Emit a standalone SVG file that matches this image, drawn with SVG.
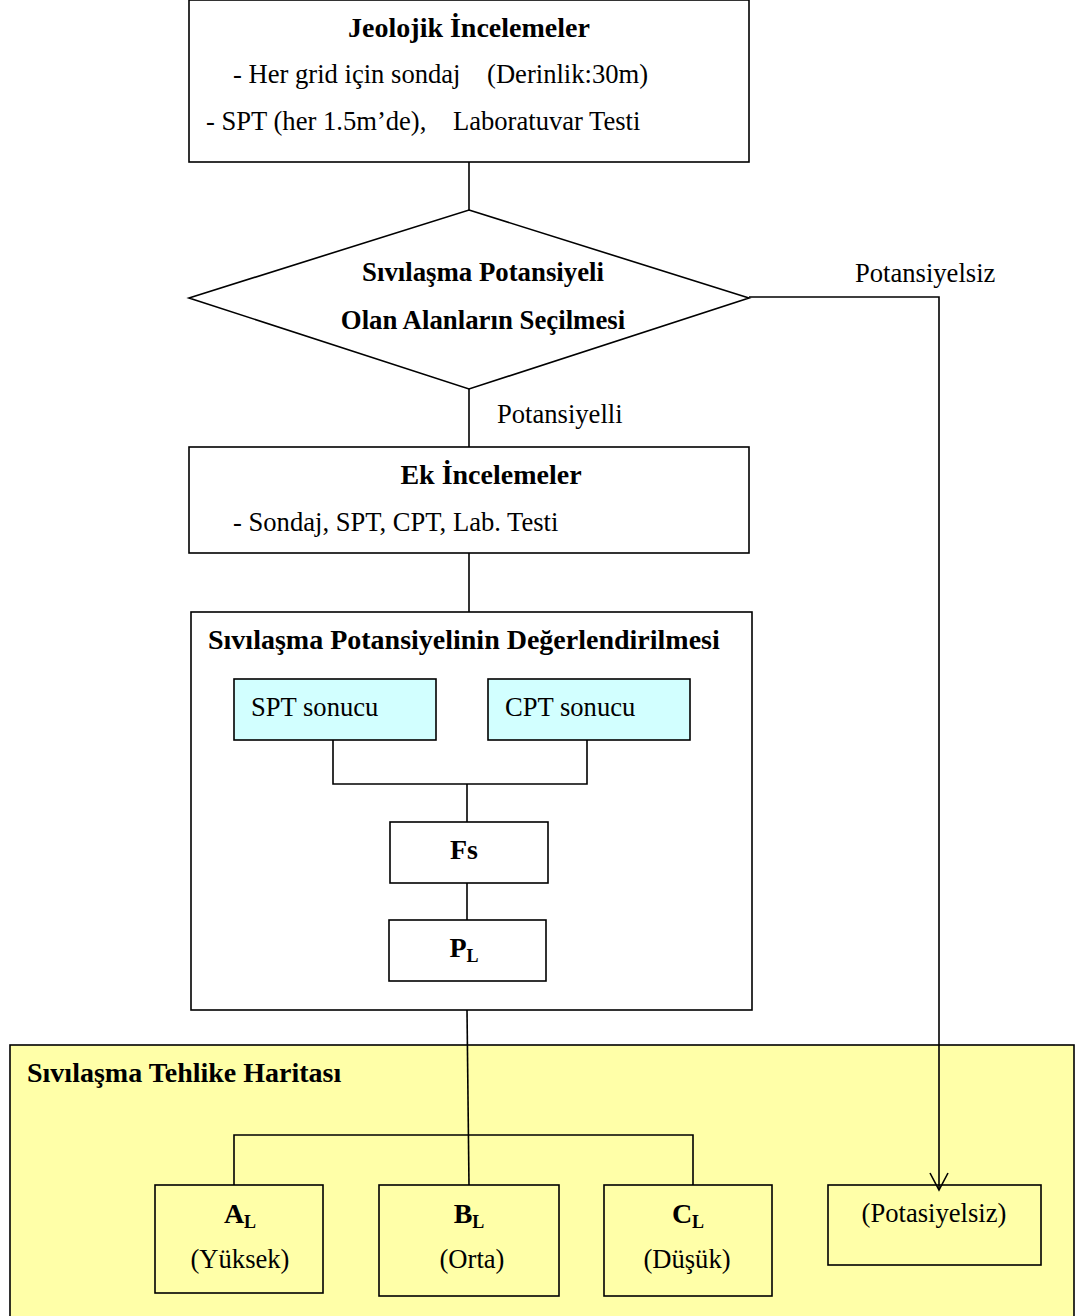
<svg xmlns="http://www.w3.org/2000/svg" width="1077" height="1316" viewBox="0 0 1077 1316">
<style>
.b{fill:#fff;stroke:#000;stroke-width:1.6}
.c{fill:#d2ffff;stroke:#000;stroke-width:1.6}
.y{fill:#ffffa8;stroke:#000;stroke-width:1.6}
.t{font-family:"Liberation Serif","Times New Roman",serif;font-size:26.6px;fill:#000}
.h{font-family:"Liberation Serif","Times New Roman",serif;font-size:28px;font-weight:bold;fill:#000}
.s{font-size:18px}
.m{text-anchor:middle}
.ln{fill:none;stroke:#000;stroke-width:1.6}
</style>
<defs>
<marker id="ar" viewBox="0 0 20 20" refX="18" refY="10" markerWidth="20" markerHeight="20" markerUnits="userSpaceOnUse" orient="auto">
<path d="M1,1 L18,10 L1,19" fill="none" stroke="#000" stroke-width="1.6"/>
</marker>
</defs>
<rect id="haz" class="y" x="10" y="1045" width="1064" height="275"/>
<g id="nodes">
<g id="jeo">
<rect class="b" x="189" y="0" width="560" height="162"/>
<text class="h m" x="469" y="37">Jeolojik İncelemeler</text>
<text class="t" x="233" y="83" xml:space="preserve">- Her grid için sondaj    (Derinlik:30m)</text>
<text class="t" x="206" y="130" xml:space="preserve">- SPT (her 1.5m’de),    Laboratuvar Testi</text>
</g>
<g id="karar">
<polygon class="b" points="469,210 749,298 469,389 189,298"/>
<text class="h m" x="483" y="281" style="font-size:26.8px">Sıvılaşma Potansiyeli</text>
<text class="h m" x="483" y="329" style="font-size:26.8px">Olan Alanların Seçilmesi</text>
</g>
<g id="ek">
<rect class="b" x="189" y="447" width="560" height="106"/>
<text class="h m" x="491" y="484">Ek İncelemeler</text>
<text class="t" x="233" y="531">- Sondaj, SPT, CPT, Lab. Testi</text>
</g>
<g id="deg">
<rect class="b" x="191" y="612" width="561" height="398"/>
<text class="h" x="208" y="649">Sıvılaşma Potansiyelinin Değerlendirilmesi</text>
</g>
<g id="spt">
<rect class="c" x="234" y="679" width="202" height="61"/>
<text class="t" x="251" y="716">SPT sonucu</text>
</g>
<g id="cpt">
<rect class="c" x="488" y="679" width="202" height="61"/>
<text class="t" x="505" y="716">CPT sonucu</text>
</g>
<g id="fs">
<rect class="b" x="390" y="822" width="158" height="61"/>
<text class="h m" x="464" y="859">Fs</text>
</g>
<g id="pl">
<rect class="b" x="389" y="920" width="157" height="61"/>
<text class="h m" x="464" y="957">P<tspan class="s" dy="5">L</tspan></text>
</g>
<g id="harita">
<text class="h" x="27" y="1082">Sıvılaşma Tehlike Haritası</text>
</g>
<g id="al">
<rect class="b" x="155" y="1185" width="168" height="108" style="fill:#ffffa8"/>
<text class="h m" x="240" y="1223">A<tspan class="s" dy="5">L</tspan></text>
<text class="t m" x="240" y="1268">(Yüksek)</text>
</g>
<g id="bl">
<rect class="b" x="379" y="1185" width="180" height="111" style="fill:#ffffa8"/>
<text class="h m" x="469" y="1223">B<tspan class="s" dy="5">L</tspan></text>
<text class="t m" x="472" y="1268">(Orta)</text>
</g>
<g id="cl">
<rect class="b" x="604" y="1185" width="168" height="111" style="fill:#ffffa8"/>
<text class="h m" x="688" y="1223">C<tspan class="s" dy="5">L</tspan></text>
<text class="t m" x="687" y="1268">(Düşük)</text>
</g>
<g id="pot">
<rect class="b" x="828" y="1185" width="213" height="80" style="fill:#ffffa8"/>
<text class="t m" x="934" y="1222">(Potasiyelsiz)</text>
</g>
</g>
<g id="connectors">
<line class="ln" x1="469" y1="162" x2="469" y2="210"/>
<polyline class="ln" points="749,297 939,297 939,1190" marker-end="url(#ar)"/>
<line class="ln" x1="469" y1="389" x2="469" y2="447"/>
<line class="ln" x1="469" y1="553" x2="469" y2="612"/>
<polyline class="ln" points="333,740 333,784 587,784 587,740"/>
<line class="ln" x1="467" y1="784" x2="467" y2="822"/>
<line class="ln" x1="467" y1="883" x2="467" y2="920"/>
<line class="ln" x1="467" y1="1010" x2="469" y2="1185"/>
<polyline class="ln" points="234,1185 234,1135 693,1135 693,1185"/>
<text class="t" x="855" y="282">Potansiyelsiz</text>
<text class="t" x="497" y="423">Potansiyelli</text>
</g>
</svg>
